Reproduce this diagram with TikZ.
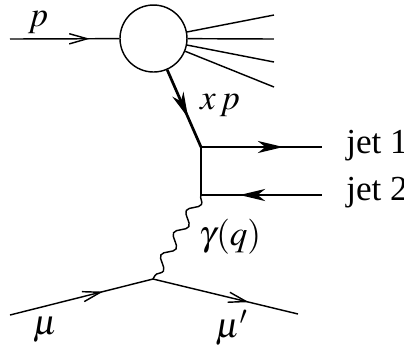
\documentclass[tikz,border=0pt]{standalone}
\usepackage{mathptmx}
\usepackage{fontspec}
\setmainfont{Liberation Serif}
\usetikzlibrary{arrows.meta,decorations.markings,decorations.pathmorphing}

\begin{document}
\begin{tikzpicture}[x=0.011cm, y=-0.011cm,
  every node/.style={font=\fontsize{11}{13}\selectfont},
  line/.style={line width=0.45pt},
  thickline/.style={line width=0.85pt},
  fermion/.style={line, postaction={decorate}, decoration={markings,
    mark=at position #1 with {\arrow{Straight Barb[length=5.6pt,width=3.2pt,line width=0.45pt]}}}},
  jet/.style={postaction={decorate}, decoration={markings,
    mark=at position #1 with {\arrow{Stealth[length=8pt,width=3.8pt,inset=2.4pt]}}}},
  photon/.style={line, decorate, decoration={snake, amplitude=1.6pt, segment length=8pt}}
]
\useasboundingbox (0,0) rectangle (404,349);
\node[circle, draw, line, minimum size=0.737cm, inner sep=0pt] (blob) at (153.5,38.5) {};
\coordinate (pin) at (10,39);
\coordinate (o1) at (274,15);
\coordinate (o2) at (274,39);
\coordinate (o3) at (274,62);
\coordinate (o4) at (274,87);
\coordinate (v1) at (201,147);
\coordinate (v2) at (201,195);
\coordinate (j1) at (322,147);
\coordinate (j2) at (322,195);
\coordinate (mv) at (153,279);
\coordinate (min) at (10,315);
\coordinate (mout) at (298,314);
% lines
\draw[fermion=0.73] (pin) -- (blob);
\foreach \o in {o1,o2,o3,o4}
  \draw[line] (blob) -- (\o);
\draw[thickline, jet=0.62] (blob) -- (v1);
\draw[line, jet=0.68] (v1) -- (j1);
\draw[line] (v1) -- (v2);
\draw[line, jet=0.68] (j2) -- (v2);
\draw[photon] (v2) -- (mv);
\draw[fermion=0.65] (min) -- (mv);
\draw[fermion=0.66] (mv) -- (mout);
% labels
\node (lp) at (38,22) {$p$};
\node (lxp) at (220,105) {$x\,p$};
\node[anchor=west] (ljet1) at (335,146) {jet 1};
\node[anchor=west] (ljet2) at (335,193) {jet 2};
\node (lgam) at (230,237) {$\gamma(q)$};
\node (lmu) at (45,330) {$\mu$};
\node (lmup) at (232,328) {$\mu'$};
\end{tikzpicture}
\end{document}
